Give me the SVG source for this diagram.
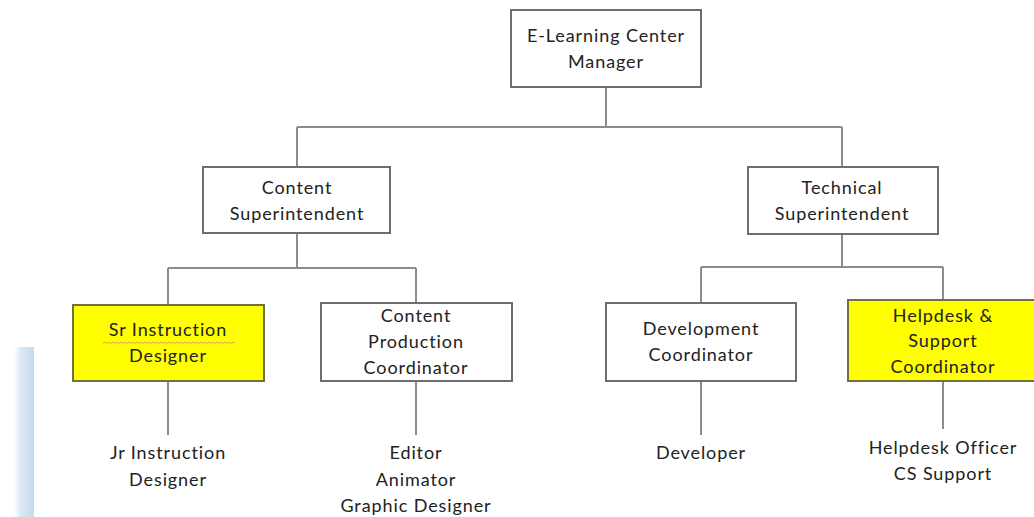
<svg xmlns="http://www.w3.org/2000/svg" width="1034" height="517" viewBox="0 0 1034 517">
  <style>
    .box { fill: #ffffff; stroke: #6e6e6e; stroke-width: 2; }
    .hl { fill: #ffff00; stroke: #707040; stroke-width: 2; }
    .lbl { font-family: Lato, "Open Sans", "Liberation Sans", sans-serif; font-size: 18px; letter-spacing: 0.9px; fill: #222222; text-anchor: middle; }
    .wire { fill: none; stroke: #8c8c8c; stroke-width: 2; }
  </style>
  <defs>
    <linearGradient id="band" x1="0" y1="0" x2="1" y2="0">
      <stop offset="0" stop-color="#ffffff"/>
      <stop offset="0.35" stop-color="#dbe7f4"/>
      <stop offset="1" stop-color="#c6d9ee"/>
    </linearGradient>
  </defs>

  <rect width="1034" height="517" fill="#ffffff"/>
  <!-- page margin strip -->
  <rect x="14" y="347" width="20" height="170" fill="url(#band)"/>

  <!-- connectors -->
  <g id="connectors">
    <path class="wire" d="M606 87 V127 M297 127 H842 M297 127 V167 M842 127 V167"/>
    <path class="wire" d="M297 233 V268 M168 268 H416 M168 268 V305 M416 268 V303"/>
    <path class="wire" d="M842 234 V267 M701 267 H943 M701 267 V303 M943 267 V300"/>
    <path class="wire" d="M168 381 V435 M416 381 V435 M701 381 V435 M943 381 V429"/>
  </g>

  <g id="manager">
    <rect class="box" x="511" y="10" width="190" height="77"/>
    <text class="lbl" x="606" y="42">E-Learning Center</text>
    <text class="lbl" x="606" y="68">Manager</text>
  </g>

  <g id="content-superintendent">
    <rect class="box" x="203" y="167" width="187" height="66"/>
    <text class="lbl" x="297" y="194">Content</text>
    <text class="lbl" x="297" y="220">Superintendent</text>
  </g>

  <g id="technical-superintendent">
    <rect class="box" x="748" y="167" width="190" height="67"/>
    <text class="lbl" x="842" y="194">Technical</text>
    <text class="lbl" x="842" y="220">Superintendent</text>
  </g>

  <g id="sr-instruction-designer">
    <rect class="hl" x="73" y="305" width="191" height="76"/>
    <text class="lbl" x="168" y="336">Sr Instruction</text>
    <text class="lbl" x="168" y="362">Designer</text>
    <!-- spell-check squiggle -->
    <path d="M103 343.5 l2 -1.5 l2 1.5 l2 -1.5 l2 1.5 l2 -1.5 l2 1.5 l2 -1.5 l2 1.5 l2 -1.5 l2 1.5 l2 -1.5 l2 1.5 l2 -1.5 l2 1.5 l2 -1.5 l2 1.5 l2 -1.5 l2 1.5 l2 -1.5 l2 1.5 l2 -1.5 l2 1.5 l2 -1.5 l2 1.5 l2 -1.5 l2 1.5 l2 -1.5 l2 1.5 l2 -1.5 l2 1.5 l2 -1.5 l2 1.5 l2 -1.5 l2 1.5 l2 -1.5 l2 1.5 l2 -1.5 l2 1.5 l2 -1.5 l2 1.5 l2 -1.5 l2 1.5 l2 -1.5 l2 1.5 l2 -1.5 l2 1.5 l2 -1.5 l2 1.5 l2 -1.5 l2 1.5 l2 -1.5 l2 1.5 l2 -1.5 l2 1.5 l2 -1.5 l2 1.5 l2 -1.5 l2 1.5 l2 -1.5 l2 1.5 l2 -1.5 l2 1.5 l2 -1.5 l2 1.5 l2 -1.5 l2 1.5" fill="none" stroke="#e0a060" stroke-width="1"/>
  </g>

  <g id="content-production-coordinator">
    <rect class="box" x="321" y="303" width="191" height="78"/>
    <text class="lbl" x="416" y="322">Content</text>
    <text class="lbl" x="416" y="348">Production</text>
    <text class="lbl" x="416" y="374">Coordinator</text>
  </g>

  <g id="development-coordinator">
    <rect class="box" x="606" y="303" width="190" height="78"/>
    <text class="lbl" x="701" y="335">Development</text>
    <text class="lbl" x="701" y="361">Coordinator</text>
  </g>

  <g id="helpdesk-support-coordinator">
    <rect class="hl" x="848" y="300" width="190" height="81"/>
    <text class="lbl" x="943" y="322">Helpdesk &amp;</text>
    <text class="lbl" x="943" y="347">Support</text>
    <text class="lbl" x="943" y="373">Coordinator</text>
  </g>

  <g id="jr-instruction-designer">
    <text class="lbl" x="168" y="459">Jr Instruction</text>
    <text class="lbl" x="168" y="486">Designer</text>
  </g>

  <g id="production-staff">
    <text class="lbl" x="416" y="459">Editor</text>
    <text class="lbl" x="416" y="486">Animator</text>
    <text class="lbl" x="416" y="512">Graphic Designer</text>
  </g>

  <g id="developer">
    <text class="lbl" x="701" y="459">Developer</text>
  </g>

  <g id="helpdesk-staff">
    <text class="lbl" x="943" y="454">Helpdesk Officer</text>
    <text class="lbl" x="943" y="480">CS Support</text>
  </g>
</svg>
